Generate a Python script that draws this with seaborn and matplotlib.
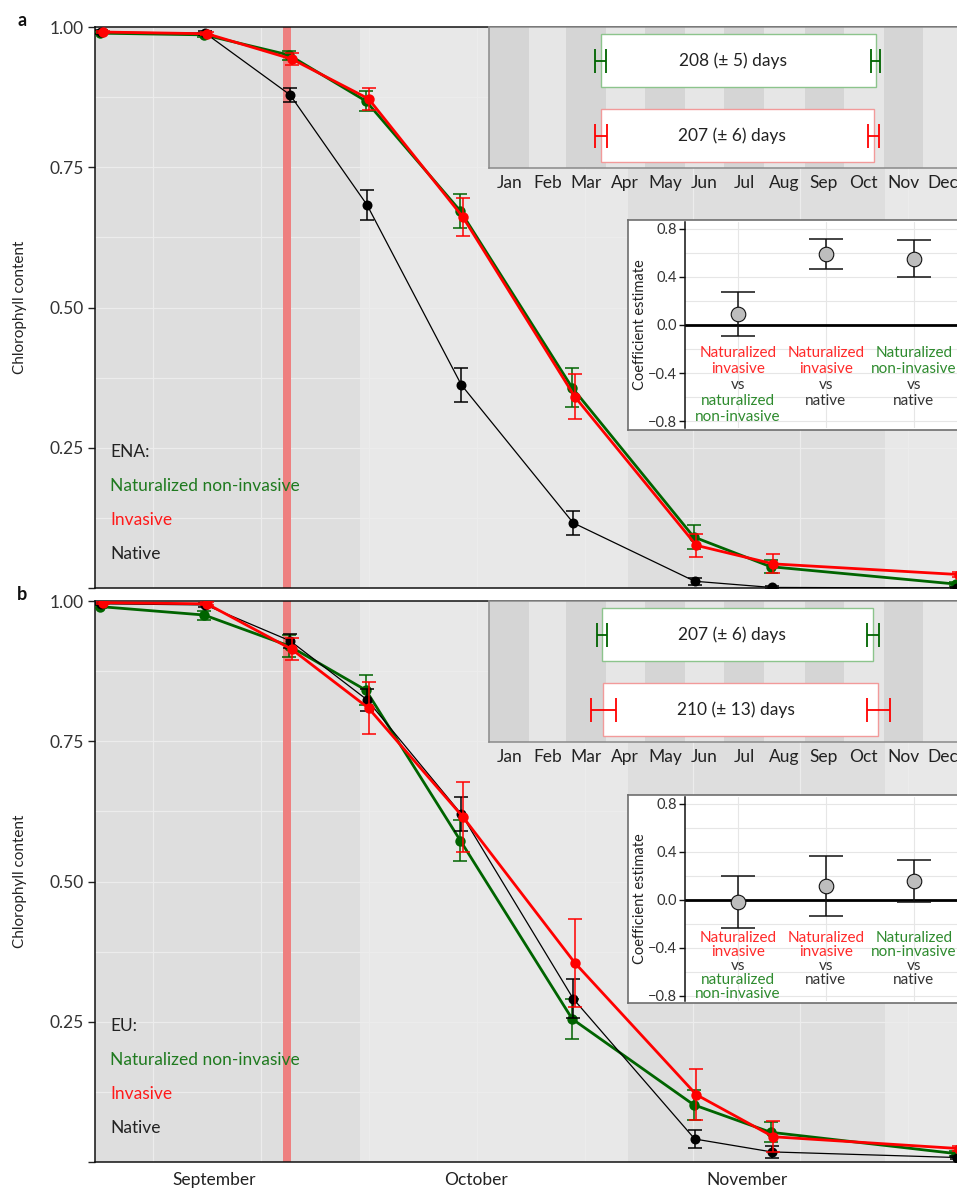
import numpy as np
import pandas as pd
import matplotlib
matplotlib.use("Agg")
import matplotlib.pyplot as plt
import seaborn as sns
from matplotlib.patches import Rectangle
from matplotlib.ticker import MultipleLocator

sns.set_theme(style="white")
plt.rcParams['font.family'] = ['Lato', 'DejaVu Sans']
plt.rcParams['axes.unicode_minus'] = True

# ---------------- data ----------------
sample_doy = [231.1, 243.0, 252.7, 261.5, 272.3, 285.1, 299.0, 307.8, 329.0]
groups = ["Naturalized non-invasive", "Invasive", "Native"]
regions = ["ENA:", "EU:"]

ena_natz = [0.989, 0.986, 0.950, 0.868, 0.672, 0.357, 0.091, 0.038, 0.007]
ena_natz_se = [0.002, 0.003, 0.008, 0.018, 0.031, 0.035, 0.022, 0.012, 0.004]
ena_inv = [0.991, 0.988, 0.943, 0.872, 0.661, 0.341, 0.076, 0.043, 0.024]
ena_inv_se = [0.002, 0.003, 0.010, 0.020, 0.034, 0.040, 0.020, 0.017, 0.005]
ena_nat = [0.991, 0.989, 0.879, 0.683, 0.362, 0.116, 0.012, 0.001, 0.000]
ena_nat_se = [0.003, 0.004, 0.013, 0.027, 0.031, 0.021, 0.006, 0.002, 0.001]

eu_natz = [0.990, 0.975, 0.920, 0.841, 0.573, 0.255, 0.102, 0.053, 0.015]
eu_natz_se = [0.003, 0.008, 0.020, 0.027, 0.036, 0.036, 0.027, 0.018, 0.004]
eu_inv = [0.997, 0.995, 0.914, 0.809, 0.615, 0.355, 0.120, 0.045, 0.024]
eu_inv_se = [0.002, 0.003, 0.020, 0.046, 0.062, 0.078, 0.045, 0.028, 0.005]
eu_nat = [0.995, 0.993, 0.929, 0.824, 0.620, 0.291, 0.041, 0.018, 0.008]
eu_nat_se = [0.002, 0.003, 0.012, 0.020, 0.030, 0.035, 0.016, 0.010, 0.003]

month_ticks = [244, 274, 305]
month_tick_labels = ["September", "October", "November"]
shade_edges = [230.4, 260.7, 291.4, 320.8, 351.0]
frost_band = (251.9, 252.8)

# growing season inset (day of year)
season_labels = [["208 (± 5) days", "207 (± 6) days"], ["207 (± 6) days", "210 (± 13) days"]]
season_start = [[86.0, 86.0], [86.8, 88.0]]
season_end = [[297.8, 296.2], [295.9, 299.8]]
season_start_err = [[4.4, 4.5], [3.9, 9.6]]
season_end_err = [[3.3, 4.0], [4.6, 8.7]]
month_names = ["Jan", "Feb", "Mar", "Apr", "May", "Jun", "Jul", "Aug", "Sep", "Oct", "Nov", "Dec"]
month_days = [31, 28, 31, 30, 31, 30, 31, 31, 30, 31, 30, 31]

# coefficient inset
coef_est = [[0.094, 0.589, 0.553], [-0.014, 0.120, 0.161]]
coef_lo = [[-0.089, 0.464, 0.403], [-0.232, -0.131, -0.014]]
coef_hi = [[0.278, 0.714, 0.708], [0.203, 0.370, 0.337]]

RED_T = "#ff2a2a"
GRN_T = "#2e8b2e"
BLK_T = "#333333"
cat_lines = [
    [("Naturalized", RED_T), ("invasive", RED_T), ("vs", BLK_T), ("naturalized", GRN_T), ("non-invasive", GRN_T)],
    [("Naturalized", RED_T), ("invasive", RED_T), ("vs", BLK_T), ("native", BLK_T)],
    [("Naturalized", GRN_T), ("non-invasive", GRN_T), ("vs", BLK_T), ("native", BLK_T)],
]

# ---------------- build table ----------------
series = {
    (0, groups[0]): (ena_natz, ena_natz_se), (0, groups[1]): (ena_inv, ena_inv_se), (0, groups[2]): (ena_nat, ena_nat_se),
    (1, groups[0]): (eu_natz, eu_natz_se), (1, groups[1]): (eu_inv, eu_inv_se), (1, groups[2]): (eu_nat, eu_nat_se),
}
dodge = {groups[0]: -0.12, groups[1]: 0.18, groups[2]: 0.0}
rows = []
for (p, g), (vals, ses) in series.items():
    for d, v, s in zip(sample_doy, vals, ses):
        rows.append(dict(panel=p, group=g, doy=d + dodge[g], value=v, se=s))
df = pd.DataFrame(rows)

style = {
    groups[0]: dict(color="#006400", lw=2.0, ms=7.5, z=3, text="#1f7a1f"),
    groups[2]: dict(color="#000000", lw=0.9, ms=7.2, z=4, text="#222222"),
    groups[1]: dict(color="#ff0000", lw=2.0, ms=7.5, z=5, text="#ff1a1a"),
}

# ---------------- figure ----------------
W, H = 957, 1190
fig = plt.figure(figsize=(W / 100, H / 100), dpi=100)

def fx(px):
    return px / W

def fy(py):
    return 1 - py / H

px_per_day = 8.74
x_left = 230.38
x_right = 336.0
ax_w = (x_right - x_left) * px_per_day / W

panel_tops = [27, 601]
panel_bots = [588, 1162]

for p in range(2):
    top, bot = panel_tops[p], panel_bots[p]
    ax = fig.add_axes([fx(95), fy(bot), ax_w, (bot - top) / H], zorder=0)
    ax.set_facecolor("#e8e8e8")
    for i in range(len(shade_edges) - 1):
        if i % 2 == 0:
            ax.axvspan(shade_edges[i], shade_edges[i + 1], color="#dedede", lw=0, zorder=0.2)
    ax.axvspan(*frost_band, color="#ee8080", lw=0, zorder=0.8)
    ax.set_axisbelow(True)

    for g in [groups[0], groups[2], groups[1]]:
        st = style[g]
        sub = df[(df.panel == p) & (df.group == g)]
        sns.lineplot(data=sub, x="doy", y="value", color=st["color"], linewidth=st["lw"],
                     marker="o", markersize=st["ms"], markeredgewidth=0, estimator=None,
                     sort=False, legend=False, ax=ax, zorder=st["z"])
        ax.errorbar(sub["doy"], sub["value"], yerr=sub["se"], fmt="none", ecolor=st["color"],
                    elinewidth=1.1, capsize=5, capthick=1.1, zorder=st["z"])

    ax.set_xlim(x_left, x_right)
    ax.set_ylim(0, 1)
    ax.set_xlabel("")
    ax.set_ylabel("Chlorophyll content", fontsize=11, color="#222222")
    ax.yaxis.set_label_coords((27 - 95) / (ax_w * W), 0.5)
    ax.set_yticks([0, 0.25, 0.5, 0.75, 1.0])
    ax.set_yticklabels(["", "0.25", "0.50", "0.75", "1.00"])
    ax.yaxis.set_minor_locator(MultipleLocator(0.125))
    ax.set_xticks(month_ticks)
    if p == 1:
        ax.set_xticklabels(month_tick_labels)
    else:
        ax.set_xticklabels([])
    ax.xaxis.set_minor_locator(MultipleLocator(12.35, offset=2.35))
    ax.tick_params(axis="y", which="major", length=5, width=1, color="#222222", labelsize=12.5,
                   labelcolor="#333333", pad=3, left=True)
    ax.tick_params(axis="x", which="major", length=0, labelsize=12.5, labelcolor="#222222", pad=7, bottom=True)
    ax.tick_params(which="minor", length=0)
    ax.grid(True, which="both", axis="y", color="#ececec", lw=0.9)
    ax.grid(True, which="minor", axis="x", color="#ececec", lw=0.9)
    ax.grid(False, which="major", axis="x")
    for sname in ["left", "bottom", "top"]:
        ax.spines[sname].set_visible(True)
        ax.spines[sname].set_color("#111111")
        ax.spines[sname].set_linewidth(1.1)
    ax.spines["right"].set_visible(False)

    # legend-like labels
    ax.text(232.1, 0.243, regions[p], fontsize=12.5, color="#222222", va="center", ha="left", zorder=6)
    for g, yy in zip(groups, [0.182, 0.122, 0.061]):
        ax.text(232.1, yy, g, fontsize=12.5, color=style[g]["text"], va="center", ha="left", zorder=6)

    fig.text(fx(22), fy(top - 7), "ab"[p], fontsize=13, fontweight="bold", color="#111111",
             ha="center", va="center")

    # ---- growing-season inset ----
    tin = fig.add_axes([fx(489), fy(top + 141), 474 / W, 141 / H], zorder=2)
    tin.set_facecolor("#e6e6e6")
    edges = np.concatenate([[0], np.cumsum(month_days)])
    for i in range(12):
        if i % 2 == 0:
            tin.axvspan(edges[i], edges[i + 1], color="#d5d5d5", lw=0, zorder=0)
    centers = (edges[:-1] + edges[1:]) / 2
    tin.set_xlim(0, 365)
    tin.set_ylim(0, 1)
    tin.set_xticks(centers)
    tin.set_xticklabels(month_names)
    tin.set_yticks([])
    tin.tick_params(axis="x", length=0, labelsize=12.5, labelcolor="#222222", pad=5)
    for sname in tin.spines:
        tin.spines[sname].set_color("#8a8a8a")
        tin.spines[sname].set_linewidth(1.1)
    box_y = [0.762, 0.23]
    box_edge = ["#8cc48c", "#f29a9a"]
    bar_col = ["#006400", "#ff0000"]
    for k in range(2):
        s0, e0 = season_start[p][k], season_end[p][k]
        yc = box_y[k]
        tin.add_patch(Rectangle((s0, yc - 0.188), e0 - s0, 0.376, facecolor="white",
                                edgecolor=box_edge[k], lw=1.0, zorder=2))
        tin.errorbar([s0, e0], [yc, yc], xerr=[[season_start_err[p][k], season_end_err[p][k]],
                                              [season_start_err[p][k], season_end_err[p][k]]],
                     fmt="none", ecolor=bar_col[k], elinewidth=1.3, capsize=8.5, capthick=1.3, zorder=3)
        tin.text((s0 + e0) / 2 - 4, yc, season_labels[p][k], fontsize=12.5, color="#222222",
                 ha="center", va="center", zorder=4)

    # ---- coefficient inset ----
    ctop = [220, 795][p]
    cbot = [430, 1003][p]
    frame = fig.add_axes([fx(628), fy(cbot), (1010 - 628) / W, (cbot - ctop) / H], zorder=2)
    frame.set_facecolor("white")
    frame.set_xticks([])
    frame.set_yticks([])
    for sname in frame.spines:
        frame.spines[sname].set_color("#6e6e6e")
        frame.spines[sname].set_linewidth(1.2)
    cin = fig.add_axes([fx(685), fy(cbot - 2), (966.6 - 685) / W, (cbot - ctop - 4) / H], zorder=3)
    cin.set_facecolor("white")
    cdf = pd.DataFrame(dict(cat=[0, 1, 2], est=coef_est[p], lo=coef_lo[p], hi=coef_hi[p]))
    cin.axhline(0, color="black", lw=2.0, zorder=2)
    cin.errorbar(cdf["cat"], cdf["est"],
                 yerr=[cdf["est"] - cdf["lo"], cdf["hi"] - cdf["est"]],
                 fmt="none", ecolor="#111111", elinewidth=1.1, capsize=12.5, capthick=1.1, zorder=3)
    sns.scatterplot(data=cdf, x="cat", y="est", s=110, color="#bdbdbd", edgecolor="#111111",
                    linewidth=0.8, zorder=4, ax=cin, legend=False)
    cin.set_xlim(-0.6, 2.6)
    cin.set_ylim([-0.858, -0.842][p], 0.858)
    cin.set_xticks([0, 1, 2])
    cin.set_xticklabels([])
    cin.set_yticks([-0.8, -0.4, 0.0, 0.4, 0.8])
    cin.set_yticklabels(["\u22120.8", "\u22120.4", "0.0", "0.4", "0.8"])
    cin.yaxis.set_minor_locator(MultipleLocator(0.2))
    cin.tick_params(axis="x", length=0)
    cin.tick_params(axis="y", which="major", length=4, width=1, color="#111111", labelsize=10.5,
                    labelcolor="#333333", pad=2, left=True)
    cin.tick_params(axis="y", which="minor", length=0)
    cin.grid(True, which="both", axis="y", color="#e6e6e6", lw=0.8)
    cin.grid(True, which="major", axis="x", color="#e6e6e6", lw=0.8)
    cin.set_axisbelow(True)
    cin.set_xlabel("")
    cin.set_ylabel("Coefficient estimate", fontsize=10.5, color="#222222")
    cin.yaxis.set_label_coords((647 - 685) / (966.6 - 685), 0.5)
    for sname in ["top", "right", "bottom"]:
        cin.spines[sname].set_visible(False)
    cin.spines["left"].set_visible(True)
    cin.spines["left"].set_color("#111111")
    cin.spines["left"].set_linewidth(1.1)
    y0 = [-0.23, -0.315][p]
    dy = [0.134, 0.118][p]
    for ci, lines in enumerate(cat_lines):
        for li, (txt, col) in enumerate(lines):
            cin.text(ci, y0 - li * dy, txt, color=col, fontsize=11, ha="center", va="center", zorder=5)

fig.savefig("out.png", dpi=100, facecolor="white")
